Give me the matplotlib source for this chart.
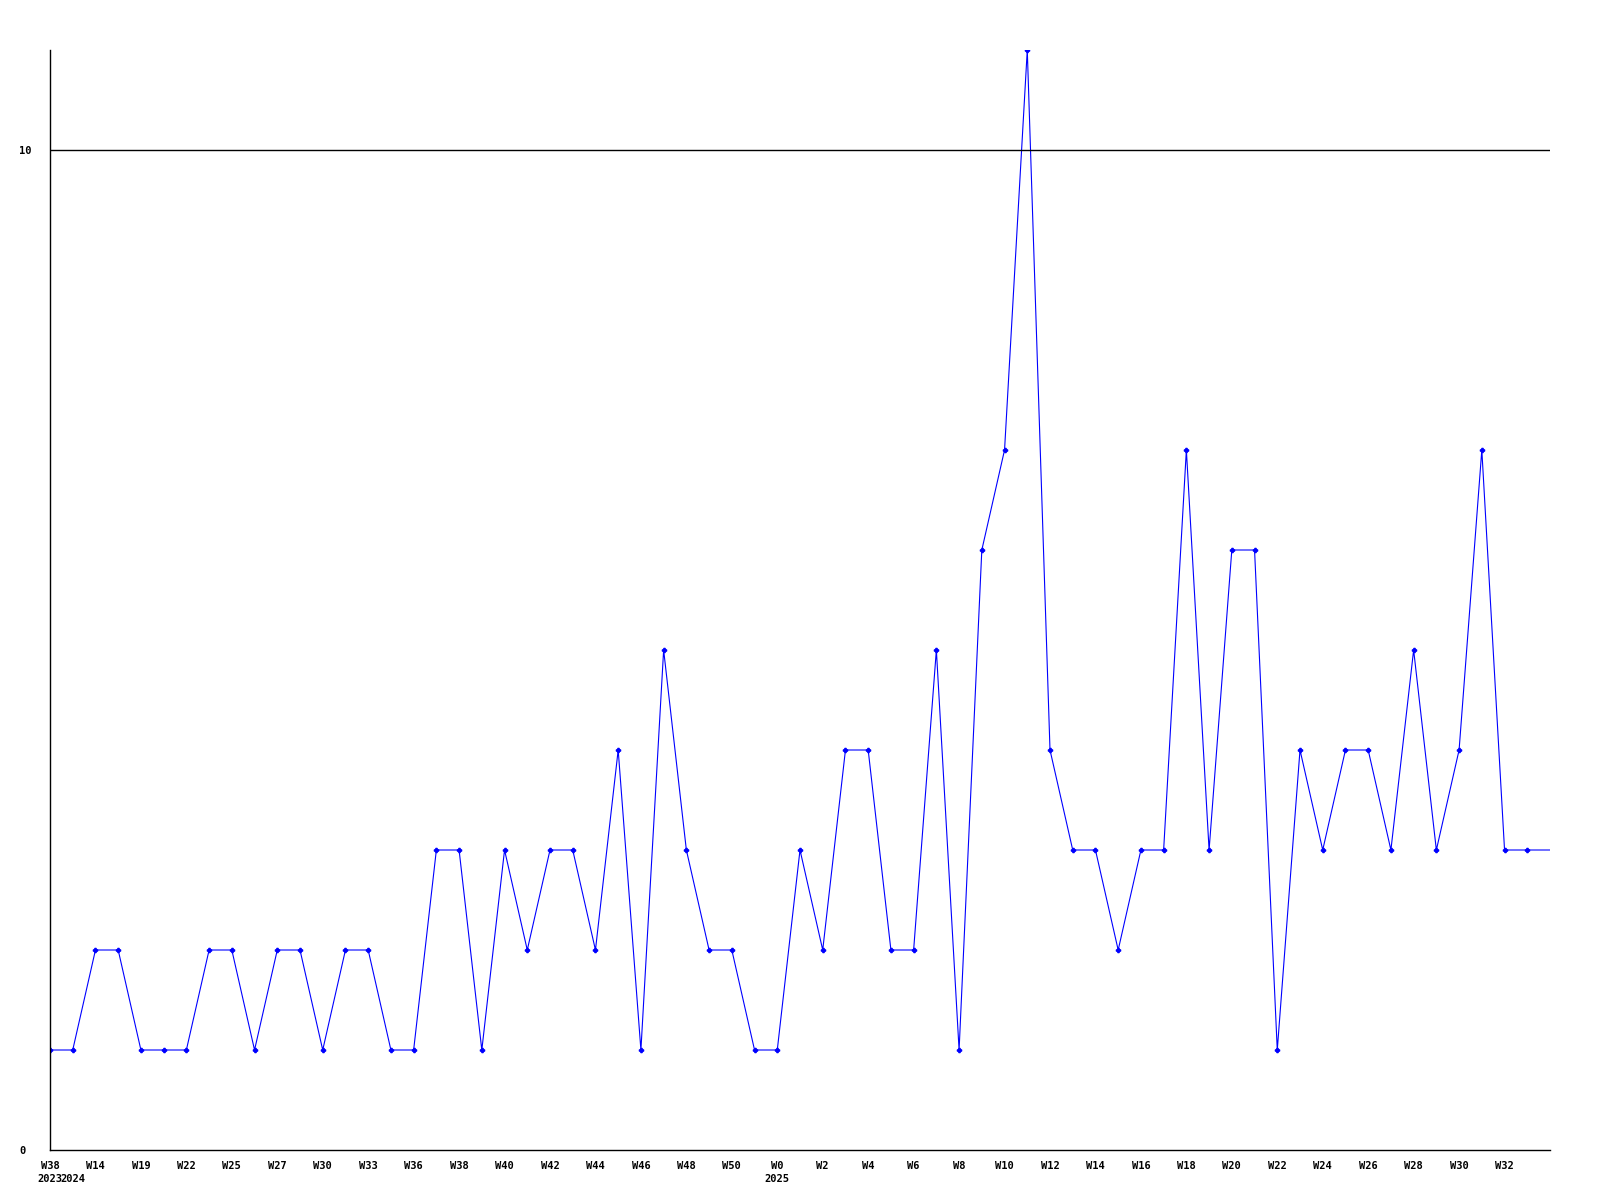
import matplotlib
matplotlib.use("Agg")
import matplotlib.pyplot as plt

# weekly counts
values = [1, 1, 2, 2, 1, 1, 1, 2, 2, 1, 2, 2, 1, 2, 2, 1, 1, 3, 3, 1,
          3, 2, 3, 3, 2, 4, 1, 5, 3, 2, 2, 1, 1, 3, 2, 4, 4, 2, 2, 5,
          1, 6, 7, 11, 4, 3, 3, 2, 3, 3, 7, 3, 6, 6, 1, 4, 3, 4, 4, 3,
          5, 3, 4, 7, 3, 3, 3]

# every second point gets a week label
week_labels = ["W38", "W14", "W19", "W22", "W25", "W27", "W30", "W33", "W36",
               "W38", "W40", "W42", "W44", "W46", "W48", "W50", "W0", "W2",
               "W4", "W6", "W8", "W10", "W12", "W14", "W16", "W18", "W20",
               "W22", "W24", "W26", "W28", "W30", "W32"]
year_marks = {0: "2023", 1: "2024", 32: "2025"}

fig = plt.figure(figsize=(16, 12), dpi=100)
ax = fig.add_axes([50 / 1600, 1 - 1150 / 1200, 1500 / 1600, 1100 / 1200])

x = list(range(len(values)))
ax.plot(x, values, color="#0000ff", linewidth=0.8,
        marker="P", markersize=3, markevery=list(range(len(values) - 1)))

# tick labels: week on first line, year (if any) under it
ticks = {}
for i, w in enumerate(week_labels):
    ticks[i * 2] = w
for i, yr in year_marks.items():
    ticks[i] = ticks.get(i, "") + "\n" + yr
pos = sorted(ticks)
ax.set_xticks(pos)
ax.set_xticklabels([ticks[p] for p in pos], family="DejaVu Sans Mono",
                   fontsize=7.5, fontweight="bold", linespacing=1.4,
                   va="top")
ax.set_yticks([0, 10])
ax.set_yticklabels(["0", "10"], family="DejaVu Sans Mono", fontsize=7.5,
                   fontweight="bold", ha="left")
ax.tick_params(axis="both", length=0)
ax.tick_params(axis="x", pad=8)
ax.tick_params(axis="y", pad=22)

ax.axhline(10, color="black", linewidth=1)
ax.set_xlim(0, len(values) - 1)
ax.set_ylim(0, 11)
for s in ["top", "right"]:
    ax.spines[s].set_visible(False)
for s in ["left", "bottom"]:
    ax.spines[s].set_linewidth(1)

fig.savefig("out.png", dpi=100)
